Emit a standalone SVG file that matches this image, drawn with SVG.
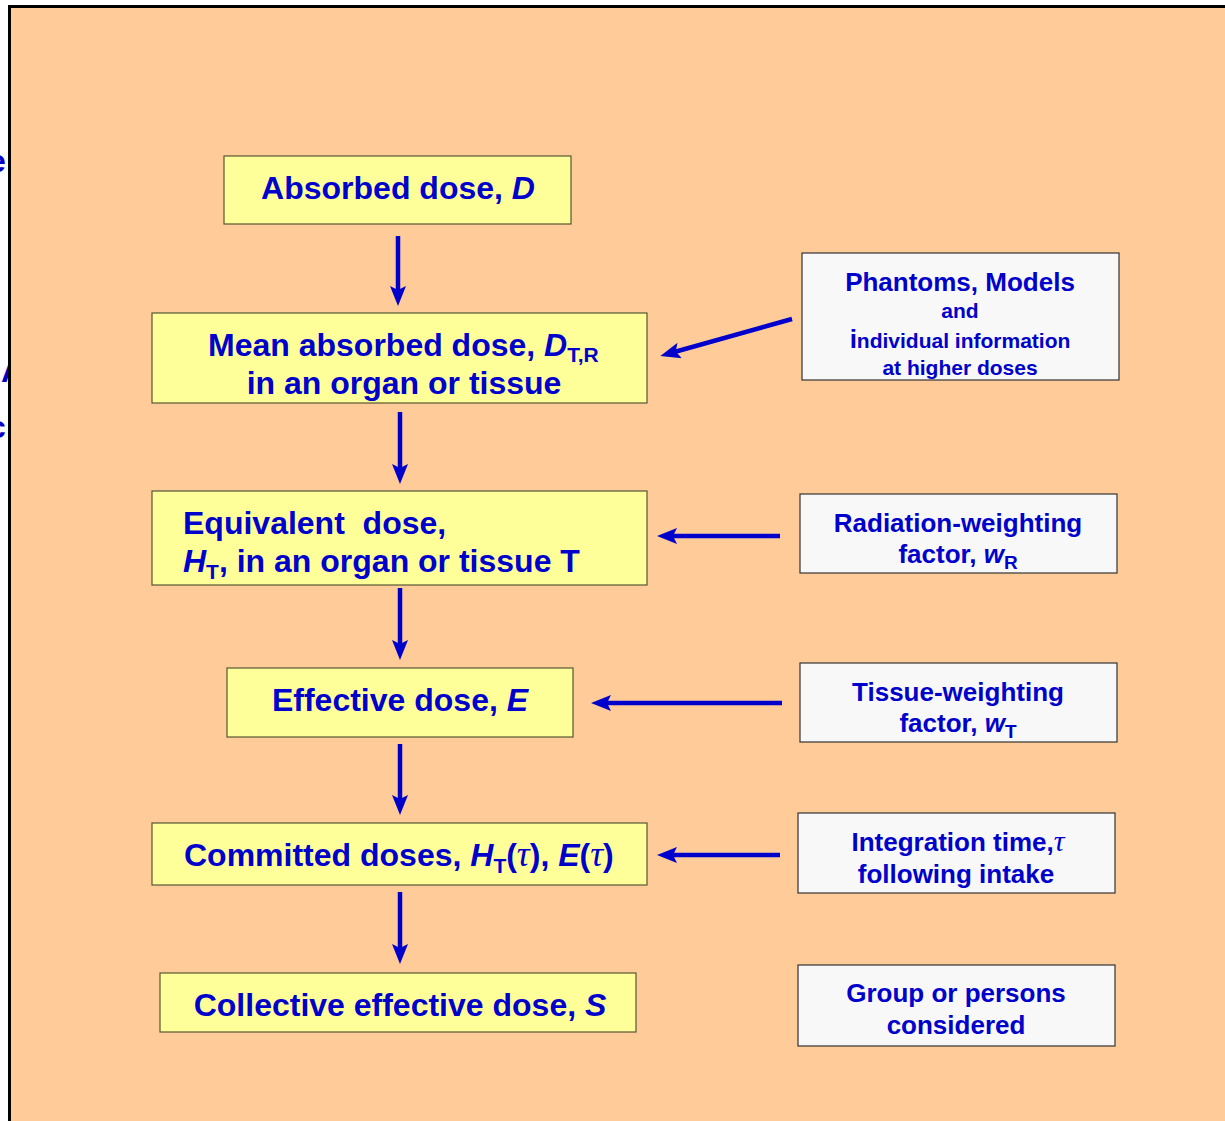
<svg xmlns="http://www.w3.org/2000/svg" width="1225" height="1121" viewBox="0 0 1225 1121">
<style>
.bg{fill:#FFCC99;stroke:#000;stroke-width:3}
.ybox{fill:#FFFF99;stroke:#555533;stroke-width:1.2}
.gbox{fill:#F8F8F8;stroke:#333;stroke-width:1.2}
.t{font-family:"Liberation Sans",Arial,sans-serif;font-weight:bold;fill:#0000CC}
.m{font-size:32px}
.r{font-size:26px}
.s{font-size:21px}
.c{text-anchor:middle}
.tau{font-family:"Liberation Serif","Times New Roman",serif;font-style:italic;font-weight:normal}
.arr{stroke:#0000CC;stroke-width:4.5;fill:none;marker-end:url(#ah)}
</style>
<defs>
<marker id="ah" viewBox="0 0 20 16" markerWidth="20" markerHeight="16" refX="11" refY="8" orient="auto" markerUnits="userSpaceOnUse">
<path d="M0,0 L20,8 L0,16 L4,8 z" fill="#0000CC"/>
</marker>
<clipPath id="edge"><rect x="0" y="0" width="9" height="1121"/></clipPath>
</defs>
<rect x="0" y="0" width="1225" height="1121" fill="#fff"/>
<g clip-path="url(#edge)" class="t m">
<text x="-12" y="172">e</text>
<text x="1" y="382">A</text>
<text x="-12" y="438">c</text>
</g>
<rect class="bg" x="9.5" y="6.5" width="1230" height="1130"/>

<g id="connectors">
<line class="arr" x1="398" y1="236" x2="398" y2="297"/>
<line class="arr" x1="400" y1="412" x2="400" y2="475"/>
<line class="arr" x1="400" y1="588" x2="400" y2="651"/>
<line class="arr" x1="400" y1="744" x2="400" y2="806"/>
<line class="arr" x1="400" y1="892" x2="400" y2="955"/>
<line class="arr" x1="792" y1="319" x2="669" y2="353.5"/>
<line class="arr" x1="780" y1="536" x2="666" y2="536"/>
<line class="arr" x1="782" y1="703" x2="600" y2="703"/>
<line class="arr" x1="780" y1="855" x2="666" y2="855"/>
</g>

<g id="absorbed">
<rect class="ybox" x="224" y="156" width="347" height="68"/>
<text class="t m c" x="398" y="199">Absorbed dose, <tspan font-style="italic">D</tspan></text>
</g>
<g id="mean">
<rect class="ybox" x="152" y="313" width="495" height="90"/>
<text class="t m" x="208" y="356">Mean absorbed dose, <tspan font-style="italic">D</tspan><tspan font-size="21" dy="6">T,R</tspan></text>
<text class="t m c" x="404" y="394">in an organ or tissue</text>
</g>
<g id="equivalent">
<rect class="ybox" x="152" y="491" width="495" height="94"/>
<text class="t m" x="183" y="534" xml:space="preserve">Equivalent  dose,</text>
<text class="t m" x="183" y="572"><tspan font-style="italic">H</tspan><tspan font-size="21" dy="7">T</tspan><tspan dy="-7">, in an organ or tissue T</tspan></text>
</g>
<g id="effective">
<rect class="ybox" x="227" y="668" width="346" height="69"/>
<text class="t m c" x="400" y="711">Effective dose, <tspan font-style="italic">E</tspan></text>
</g>
<g id="committed">
<rect class="ybox" x="152" y="823" width="495" height="62"/>
<text class="t m" x="184" y="866">Committed doses, <tspan font-style="italic">H</tspan><tspan font-size="21" dy="7">T</tspan><tspan dy="-7">(</tspan><tspan class="tau" font-size="36">τ</tspan>), <tspan font-style="italic">E</tspan>(<tspan class="tau" font-size="36">τ</tspan>)</text>
</g>
<g id="collective">
<rect class="ybox" x="160" y="973" width="476" height="59"/>
<text class="t m c" x="400" y="1016">Collective effective dose, <tspan font-style="italic">S</tspan></text>
</g>

<g id="phantoms">
<rect class="gbox" x="802" y="253" width="317" height="127"/>
<text class="t r c" x="960" y="291">Phantoms, Models</text>
<text class="t s c" x="960" y="318">and</text>
<text class="t s c" x="960" y="348"><tspan font-size="26">i</tspan>ndividual information</text>
<text class="t s c" x="960" y="375">at higher doses</text>
</g>
<g id="radiation">
<rect class="gbox" x="800" y="494" width="317" height="79"/>
<text class="t r c" x="958" y="532">Radiation-weighting</text>
<text class="t r c" x="958" y="563">factor, <tspan font-style="italic">w</tspan><tspan font-size="19" dy="6">R</tspan></text>
</g>
<g id="tissue">
<rect class="gbox" x="800" y="663" width="317" height="79"/>
<text class="t r c" x="958" y="701">Tissue-weighting</text>
<text class="t r c" x="958" y="732">factor, <tspan font-style="italic">w</tspan><tspan font-size="19" dy="6">T</tspan></text>
</g>
<g id="integration">
<rect class="gbox" x="798" y="813" width="317" height="80"/>
<text class="t r c" x="958" y="851">Integration time,<tspan class="tau" font-size="30">τ</tspan></text>
<text class="t r c" x="956" y="883">following intake</text>
</g>
<g id="group">
<rect class="gbox" x="798" y="965" width="317" height="81"/>
<text class="t r c" x="956" y="1002">Group or persons</text>
<text class="t r c" x="956" y="1034">considered</text>
</g>
</svg>
